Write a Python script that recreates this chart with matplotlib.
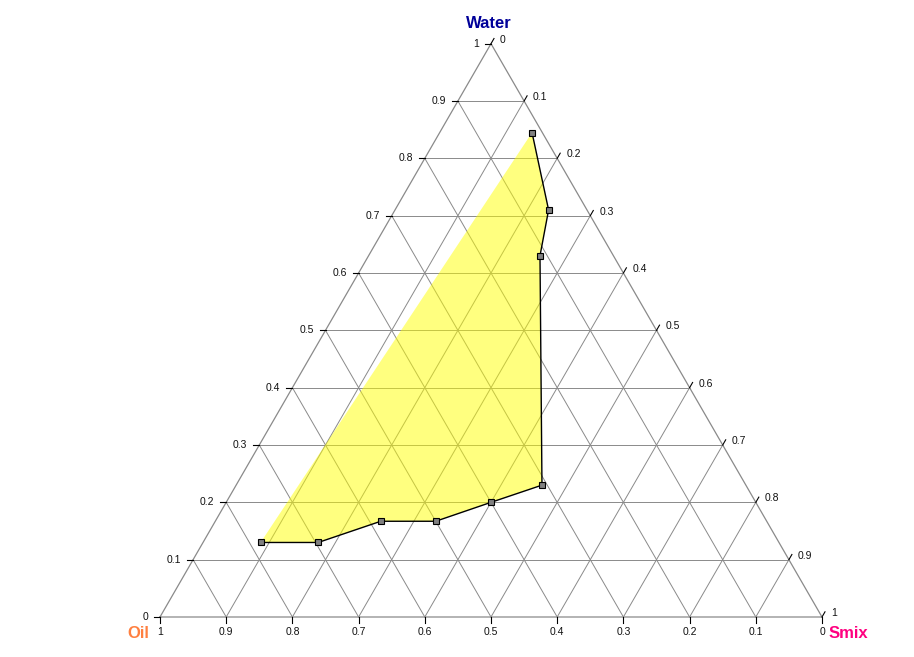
import numpy as np
import matplotlib
matplotlib.use("Agg")
import matplotlib.pyplot as plt

# Data: composition of boundary points (fractions)
oil = [0.783, 0.696, 0.583, 0.500, 0.400, 0.308, 0.111, 0.058, 0.0155]
water = [0.130, 0.130, 0.167, 0.167, 0.200, 0.230, 0.630, 0.710, 0.845]
smix = [0.087, 0.174, 0.250, 0.333, 0.400, 0.462, 0.259, 0.232, 0.1395]
tick_values = [0.1, 0.2, 0.3, 0.4, 0.5, 0.6, 0.7, 0.8, 0.9]

plt.rcParams['font.family'] = ['Liberation Sans', 'DejaVu Sans']

S3 = np.sqrt(3) / 2
PX = 1 / 662.0


def tc(s, w):
    """ternary (smix, water) -> cartesian"""
    return s + w / 2.0, w * S3


fig = plt.figure(figsize=(9.14, 6.57), dpi=100)
ax = fig.add_axes([0, 0, 1, 1])
ax.set_xlim(-160 * PX, (914 - 160) * PX)
ax.set_ylim(-(657 - 617) * PX, 617 * PX)
ax.axis('off')

grid_c = '#8a8a8a'
# outer triangle
tri = [tc(0, 0), tc(1, 0), tc(0, 1), tc(0, 0)]
ax.plot([p[0] for p in tri], [p[1] for p in tri], color=grid_c, lw=0.9, zorder=1)

for k in tick_values:
    a = tc(0, k); b = tc(1 - k, k)
    ax.plot([a[0], b[0]], [a[1], b[1]], color=grid_c, lw=0.7, zorder=1)
    a = tc(k, 0); b = tc(k, 1 - k)
    ax.plot([a[0], b[0]], [a[1], b[1]], color=grid_c, lw=0.7, zorder=1)
    a = tc(1 - k, 0); b = tc(0, 1 - k)
    ax.plot([a[0], b[0]], [a[1], b[1]], color=grid_c, lw=0.7, zorder=1)

fs = 7.5
tl = 6 * PX
all_vals = [0] + tick_values + [1]
for v in all_vals:
    lbl = '0' if v == 0 else ('1' if v == 1 else f'{v:.1f}')
    # left axis: water fraction
    x, y = tc(0, v)
    ax.plot([x - tl, x], [y, y], color='black', lw=0.8, zorder=3)
    ax.text(x - 12 * PX, y, lbl, ha='right', va='center', fontsize=fs, color='#111111')
    # right axis: smix fraction (0 at top)
    x, y = tc(v, 1 - v)
    ax.plot([x, x + 0.5 * tl], [y, y + S3 * tl], color='black', lw=0.8, zorder=3)
    ax.text(x + 9 * PX, y + 4 * PX, lbl, ha='left', va='center', fontsize=fs, color='#111111')
    # bottom axis: oil fraction (1 at left)
    x, y = tc(1 - v, 0)
    ax.plot([x, x], [y, y - tl], color='black', lw=0.8, zorder=3)
    ax.text(x, y - 15 * PX, lbl, ha='center', va='center', fontsize=fs, color='#111111')

# region
pts = [tc(s, w) for s, w in zip(smix, water)]
xs = [p[0] for p in pts]
ys = [p[1] for p in pts]
ax.fill(xs, ys, facecolor='#ffff00', alpha=0.5, edgecolor='none', zorder=2)
ax.plot(xs, ys, color='black', lw=1.0, zorder=4)
ax.plot(xs, ys, ls='none', marker='s', ms=4.5, markerfacecolor='#808080',
        markeredgecolor='black', markeredgewidth=0.8, zorder=5)


def pxy(px, py):
    return (px - 160) * PX, (617 - py) * PX


ax.text(*pxy(489, 23), 'Water', ha='center', va='center', fontsize=12,
        fontweight='bold', color='#000099')
ax.text(*pxy(138, 634), 'Oil', ha='center', va='center', fontsize=12,
        fontweight='bold', color='#ff8040')
ax.text(*pxy(848, 634), 'Smix', ha='center', va='center', fontsize=12,
        fontweight='bold', color='#ff0080')

fig.savefig('out.png', dpi=100)
